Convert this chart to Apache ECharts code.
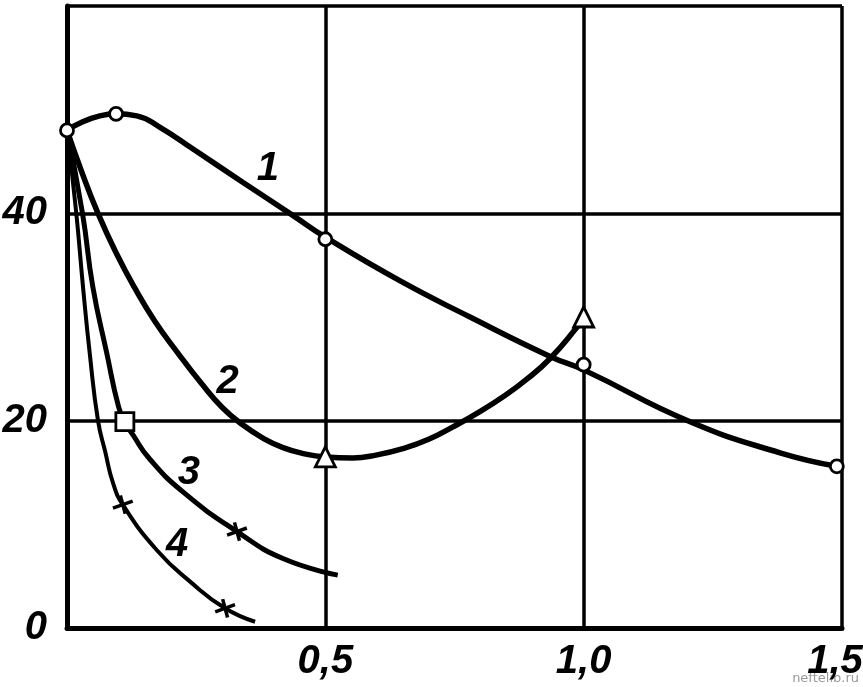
<!DOCTYPE html>
<html>
<head>
<meta charset="utf-8">
<script src="https://cdn.jsdelivr.net/npm/echarts@6/dist/echarts.min.js"></script>
<style>html,body{margin:0;padding:0;background:#fff;}#c{width:863px;height:687px;}</style>
</head>
<body>
<div id="c"></div>
<script>
// Tick labels
const xTickLabels = ['', '0,5', '1,0', '1,5'];
const yTickLabels = ['0', '20', '40', ''];

// Curve 1
const curve1 = [[0,48],[0.095,49.6],[0.135,49.4],[0.18,48.3],[0.244,46.2],[0.34,43.0],[0.437,39.8],[0.5,37.7],[0.644,33.5],[0.78,30.0],[0.935,26.2],[1.0,24.9],[1.206,19.9],[1.38,16.9],[1.49,15.6]];
const markers1 = [[0,48],[0.095,49.6],[0.5,37.5],[1.0,25.4],[1.49,15.6]];
// Curve 2
const curve2 = [[0,48],[0.03,43.8],[0.06,40],[0.095,36.2],[0.13,32.9],[0.17,29.6],[0.215,26.5],[0.26,23.6],[0.3,21.3],[0.34,19.6],[0.38,18.3],[0.418,17.4],[0.46,16.8],[0.5,16.5],[0.553,16.4],[0.6,16.7],[0.65,17.3],[0.7,18.2],[0.747,19.4],[0.8,20.9],[0.844,22.3],[0.89,24.0],[0.935,26.0],[0.987,29.0],[1.0,29.9]];
const markers2 = [[0.5,16.5],[1.0,30]];
// Curve 3
const curve3 = [[0,48],[0.03,40],[0.05,32.9],[0.077,26.5],[0.1,21.3],[0.112,19.9],[0.128,18.6],[0.16,16.3],[0.225,13.1],[0.329,9.3],[0.418,6.7],[0.524,5.1]];
const markers3sq = [[0.112,19.9]];
const markers3st = [[0.329,9.3]];
// Curve 4
const curve4 = [[0,48],[0.018,40],[0.031,32.9],[0.044,26.5],[0.06,20],[0.074,17.0],[0.089,14.0],[0.108,11.9],[0.174,7.5],[0.24,4.4],[0.306,1.9],[0.364,0.6]];
const markers4st = [[0.108,11.9],[0.306,1.9]];
// Curve labels
const curveLabels = [
  {name:'1', value:[0.389,44.3]},
  {name:'2', value:[0.311,23.7]},
  {name:'3', value:[0.236,15.0]},
  {name:'4', value:[0.213,8.0]}
];

const FONT = '"Liberation Sans",Arial,sans-serif';
const starData = markers3st.concat(markers4st);

const chart = echarts.init(document.getElementById('c'), null, {renderer:'canvas'});
function lineSeries(data, w){
  return {type:'line', data:data, smooth:true, showSymbol:false, symbol:'none',
    lineStyle:{color:'#000', width:w}, z:3, silent:true};
}
function markerSeries(data, symbol, size, extra){
  return Object.assign({type:'scatter', data:data, symbol:symbol, symbolSize:size,
    itemStyle:{color:'#fff', borderColor:'#000', borderWidth:2.8, opacity:1}, z:5, silent:true}, extra||{});
}
const labelStyle = {color:'#000', fontFamily:FONT, fontSize:40, fontStyle:'italic', fontWeight:'bold'};
chart.setOption({
  animation:false,
  backgroundColor:'#fff',
  grid:{left:67, right:21, top:6, bottom:59, containLabel:false, outerBoundsMode:'none'},
  xAxis:{type:'value', min:0, max:1.5, interval:0.5,
    axisLine:{show:true, onZero:false, lineStyle:{color:'#000', width:5}},
    axisTick:{show:false},
    splitLine:{show:true, lineStyle:{color:'#000', width:3.5}},
    axisLabel:Object.assign({margin:14,
      formatter:function(v){var i=Math.round(v/0.5); return i===3 ? '{r|'+xTickLabels[i]+'}' : xTickLabels[i];},
      rich:{r:Object.assign({padding:[0,14,0,0]}, labelStyle)}}, labelStyle)
  },
  yAxis:{type:'value', min:0, max:60, interval:20,
    axisLine:{show:true, onZero:false, lineStyle:{color:'#000', width:5}},
    axisTick:{show:false},
    splitLine:{show:true, lineStyle:{color:'#000', width:3.5}},
    axisLabel:Object.assign({margin:20,
      formatter:function(v){return yTickLabels[Math.round(v/20)];}}, labelStyle)
  },
  series:[
    lineSeries(curve1, 5.5),
    lineSeries(curve2, 5.5),
    lineSeries(curve3, 5),
    lineSeries(curve4, 4),
    markerSeries(markers1, 'circle', 13),
    markerSeries(markers2, 'triangle', 20),
    markerSeries(markers3sq, 'rect', 18),
    markerSeries(starData, 'rect', [3.5,19], {symbolRotate:15, itemStyle:{color:'#000', borderWidth:0, opacity:1}}),
    markerSeries(starData, 'rect', [3.5,21], {symbolRotate:-70, itemStyle:{color:'#000', borderWidth:0, opacity:1}}),
    {type:'scatter', data:curveLabels, symbolSize:0, silent:true, z:6, itemStyle:{opacity:1},
      label:Object.assign({show:true, position:'inside', formatter:'{b}'}, labelStyle)}
  ],
  graphic:[{type:'text', right:4, bottom:2, style:{text:'neftelib.ru', fill:'#999', font:'13px "DejaVu Sans",sans-serif'}}]
});
</script>
</body>
</html>
